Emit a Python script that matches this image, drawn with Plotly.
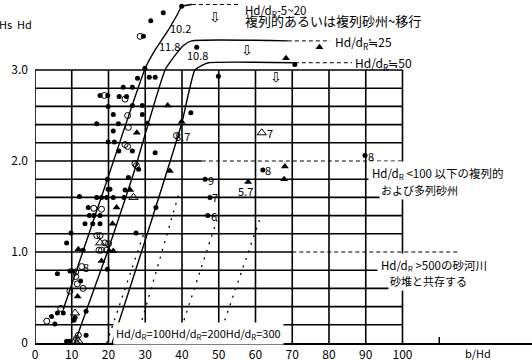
import plotly.graph_objects as go

# ---------------- data ----------------
x_ticks = [0, 10, 20, 30, 40, 50, 60, 70, 80, 90, 100]
y_ticks = [0, 1, 2, 3]
y_tick_text = ["0", "1.0", "2.0", "3.0"]
grid_y = [0.2, 0.4, 0.6, 0.8, 1.0, 1.2, 1.4, 1.6, 1.8, 2.0, 2.2, 2.4, 2.6, 2.8, 3.0]

# filled circles
filled_x = [39.9, 34.9, 31.5, 29.5, 44.0, 29.9, 27.9, 31.1, 32.7, 49.9, 70.7, 24.0, 26.5, 17.7, 19.8,
            22.9, 24.9, 19.9, 26.5, 29.2, 42.4, 21.3, 29.2, 16.8, 22.7, 21.3, 19.9, 21.6, 22.8, 26.5,
            32.7, 28.2, 19.7, 25.4, 19.9, 20.4, 24.5, 12.1, 16.8, 18.1, 19.5, 21.3, 24.2, 14.5, 32.9,
            14.8, 16.0, 17.7, 13.6, 15.7, 17.7, 9.8, 27.5, 8.6, 13.1, 19.7, 6.1, 9.5, 10.3, 12.4,
            6.1, 7.7, 4.5, 5.4, 10.6, 10.9, 13.9, 8.6, 9.3, 13.9, 46.3, 62.0, 47.6, 47.0, 89.8]
filled_y = [3.70, 3.63, 3.54, 3.37, 3.25, 3.02, 2.91, 2.92, 2.92, 2.93, 3.06, 2.81, 2.81, 2.72, 2.72,
            2.71, 2.71, 2.60, 2.61, 2.61, 2.53, 2.51, 2.51, 2.41, 2.41, 2.33, 2.21, 2.21, 2.11, 2.11,
            2.09, 1.91, 1.80, 1.82, 1.69, 1.69, 1.68, 1.61, 1.60, 1.60, 1.60, 1.60, 1.60, 1.49, 1.49,
            1.40, 1.40, 1.40, 1.31, 1.31, 1.31, 1.21, 1.21, 1.10, 1.02, 0.81, 0.76, 0.79, 0.79, 0.68,
            0.33, 0.33, 0.29, 0.21, 0.25, 0.28, 0.35, 0.02, 0.02, 0.085, 1.80, 1.90, 1.60, 1.40, 2.06]

# open circles
open_x = [28.6, 18.9, 24.5, 25.2, 25.4, 24.5, 25.2, 27.2, 27.6, 38.5, 16.0, 18.1, 16.8, 17.7, 19.0,
          20.0, 17.4, 18.1, 19.5, 12.7, 11.1, 11.1, 11.5, 13.1, 9.5, 7.0, 3.2, 11.8, 11.3]
open_y = [3.37, 2.72, 2.68, 2.50, 2.37, 2.18, 2.16, 1.97, 1.95, 2.28, 1.48, 1.47, 1.18, 1.18, 1.10,
          1.09, 1.02, 1.02, 1.02, 0.84, 0.78, 0.73, 0.65, 0.60, 0.57, 0.38, 0.24, 0.085, 0.05]

# filled triangles
tri_x = [77.4, 68.3, 36.1, 27.7, 30.5, 39.9, 36.7, 25.9, 22.2, 21.1, 11.8, 20.2, 21.3, 18.1, 11.6, 58.0, 68.0, 67.8]
tri_y = [3.25, 3.13, 2.61, 2.31, 2.41, 2.43, 1.89, 1.68, 1.49, 1.31, 1.03, 1.01, 1.01, 0.90, 0.51, 1.77, 1.94, 1.80]

# open triangles
otri_x = [26.8, 17.7, 10.9, 10.9, 11.8, 61.7]
otri_y = [1.60, 1.10, 0.33, 0.02, 0.02, 2.31]

# envelope curves (solid) and their dashed extensions
env1_x = [7.7, 19.7, 30.0, 32.7, 36.3, 38.6, 40.0, 42.7]
env1_y = [0.37, 1.80, 3.02, 3.22, 3.44, 3.60, 3.70, 3.72]
env1_dash_x = [42.7, 56.0]
env1_dash_y = [3.72, 3.72]

env2_x = [10.8, 19.7, 26.8, 35.4, 38.1, 40.4, 42.6, 68.8]
env2_y = [0.0, 1.00, 1.86, 3.00, 3.16, 3.27, 3.32, 3.32]
env2_dash_x = [68.8, 80.3]
env2_dash_y = [3.32, 3.32]

env3_x = [21.0, 30.4, 39.9, 43.5, 45.4, 47.2, 70.7]
env3_y = [0.0, 1.18, 2.41, 3.00, 3.05, 3.08, 3.08]
env3_dash_x = [70.7, 86.3]
env3_dash_y = [3.08, 3.08]

# dotted Hd/dR = 100 / 200 / 300 lines
dot_x = [[19.5, 30.0], [27.3, 39.0], [38.5, 49.5], [49.5, 61.5]]
dot_y = [[0.0, 1.25], [0.0, 1.62], [0.0, 1.35], [0.0, 1.40]]

# region boundary dashed lines
zone_x = [[45.4, 100.0], [70.0, 115.0]]
zone_y = [[2.0, 2.0], [1.0, 1.0]]

# numeric labels next to points
lab_text = ["10.2", "11.8", "10.8", "8.7", "7", "9", "7", "6", "8", "5.7", "8", "8"]
lab_x = [39.5, 36.5, 44.2, 40.0, 63.9, 47.8, 49.0, 48.7, 63.5, 57.3, 91.4, 13.9]
lab_y = [3.46, 3.26, 3.17, 2.27, 2.31, 1.79, 1.60, 1.40, 1.90, 1.67, 2.06, 0.84]

# hollow down arrows
arrow_x = [49.0, 57.7, 65.6]
arrow_y = [3.58, 3.22, 2.92]

# ---------------- figure ----------------
FONT = "Noto Sans CJK JP, sans-serif"
X_MAX = 497 / 3.675
Y_MAX = 343 / 91.0

fig = go.Figure()

# grid
gx, gy = [], []
for xv in x_ticks:
    gx += [xv, xv, None]
    gy += [0, 3.0, None]
zone_starts = {round(zone_y[i][0], 1): zone_x[i][0] for i in range(len(zone_y))}
for yv in grid_y:
    end = min(zone_starts.get(round(yv, 1), 100), 100)
    gx += [0, end, None]
    gy += [yv, yv, None]
fig.add_trace(go.Scatter(x=gx, y=gy, mode="lines", line=dict(color="black", width=1.6),
                         hoverinfo="skip"))

# tick on extended axis
fig.add_trace(go.Scatter(x=[110, 110], y=[0, 0.066], mode="lines",
                         line=dict(color="black", width=1.5), hoverinfo="skip"))

# envelopes
for ex, ey in [(env1_x, env1_y), (env2_x, env2_y), (env3_x, env3_y)]:
    fig.add_trace(go.Scatter(x=ex, y=ey, mode="lines",
                             line=dict(color="black", width=1.4, shape="spline", smoothing=0.5),
                             hoverinfo="skip"))
for ex, ey in [(env1_dash_x, env1_dash_y), (env2_dash_x, env2_dash_y), (env3_dash_x, env3_dash_y)]:
    fig.add_trace(go.Scatter(x=ex, y=ey, mode="lines", line=dict(color="black", width=1, dash="4px,3px"),
                             hoverinfo="skip"))
for ex, ey in zip(zone_x, zone_y):
    fig.add_trace(go.Scatter(x=ex, y=ey, mode="lines", line=dict(color="black", width=1, dash="4px,3px"),
                             hoverinfo="skip"))
for ex, ey in zip(dot_x, dot_y):
    fig.add_trace(go.Scatter(x=ex, y=ey, mode="lines", line=dict(color="black", width=1.3, dash="2px,6px"),
                             hoverinfo="skip"))

# markers
fig.add_trace(go.Scatter(x=filled_x, y=filled_y, mode="markers", cliponaxis=False,
                         marker=dict(symbol="circle", size=5, color="black")))
fig.add_trace(go.Scatter(x=open_x, y=open_y, mode="markers", cliponaxis=False,
                         marker=dict(symbol="circle-open", size=6, color="black", line=dict(width=1))))
fig.add_trace(go.Scatter(x=tri_x, y=tri_y, mode="markers", cliponaxis=False,
                         marker=dict(symbol="triangle-up", size=7, color="black")))
fig.add_trace(go.Scatter(x=otri_x, y=otri_y, mode="markers", cliponaxis=False,
                         marker=dict(symbol="triangle-up-open", size=8, color="black", line=dict(width=1))))

BLACK = "black"
ann = []
for t, x, y in zip(lab_text, lab_x, lab_y):
    ann.append(dict(x=x, y=y, xref="x", yref="y", text=t, showarrow=False,
                    font=dict(size=11, family=FONT, color=BLACK)))
for x, y in zip(arrow_x, arrow_y):
    ann.append(dict(x=x, y=y, xref="x", yref="y", text="⇩", showarrow=False,
                    font=dict(size=14, family="DejaVu Sans", color=BLACK)))

# descriptive texts
ann.append(dict(x=56.6, y=1.0, xref="x", yref="paper", xanchor="left", yanchor="top", align="left",
                text="<span style='font-size:11.5px'>Hd/d<sub>R</sub>-5~20</span><br>"
                     "<span style='font-size:13px'>複列的あるいは複列砂州~移行</span>",
                showarrow=False, font=dict(size=8.5, family=FONT, color=BLACK)))
ann.append(dict(x=81.1, y=3.30, xref="x", yref="y", xanchor="left", text="Hd/d<sub>R</sub>≒25",
                showarrow=False, font=dict(size=12, family=FONT, color=BLACK)))
ann.append(dict(x=86.5, y=3.07, xref="x", yref="y", xanchor="left", text="Hd/d<sub>R</sub>≒50",
                showarrow=False, font=dict(size=12, family=FONT, color=BLACK)))
ann.append(dict(x=90.6, y=1.865, xref="x", yref="y", xanchor="left",
                text="Hd/d<sub>R</sub> &lt;100 以下の複列的", bgcolor="white", borderpad=3,
                showarrow=False, font=dict(size=11.5, family=FONT, color=BLACK)))
ann.append(dict(x=93.6, y=1.68, xref="x", yref="y", xanchor="left", text="および多列砂州",
                bgcolor="white", borderpad=1, showarrow=False, font=dict(size=11, family=FONT, color=BLACK)))
ann.append(dict(x=93.0, y=0.855, xref="x", yref="y", xanchor="left",
                text="Hd/d<sub>R</sub> &gt;500の砂河川", bgcolor="white", borderpad=3,
                showarrow=False, font=dict(size=11.5, family=FONT, color=BLACK)))
ann.append(dict(x=96.0, y=0.68, xref="x", yref="y", xanchor="left", text="砂堆と共存する",
                bgcolor="white", borderpad=1, showarrow=False, font=dict(size=11, family=FONT, color=BLACK)))
ann.append(dict(x=21.3, y=0.10, xref="x", yref="y", xanchor="left",
                text="Hd/d<sub>R</sub>=100Hd/d<sub>R</sub>=200Hd/d<sub>R</sub>=300",
                bgcolor="white", borderpad=2, showarrow=False, font=dict(size=11, family=FONT, color=BLACK)))

# axis titles (paper coordinates, outside the data range)
ann.append(dict(x=-20 / 497, y=(343 - 24) / 343, xref="paper", yref="paper",
                xanchor="center", yanchor="middle", text="Hs  Hd",
                showarrow=False, font=dict(size=11, family=FONT, color=BLACK)))
ann.append(dict(x=120.5, y=-10 / 343, xref="x", yref="paper", xanchor="center", yanchor="middle",
                text="b/Hd", showarrow=False, font=dict(size=11, family=FONT, color=BLACK)))

fig.update_layout(
    width=532, height=363,
    margin=dict(l=35, r=0, t=0, b=20),
    plot_bgcolor="white", paper_bgcolor="white",
    showlegend=False,
    font=dict(family=FONT, size=11, color="black"),
    annotations=ann,
    xaxis=dict(range=[0, X_MAX], tickvals=x_ticks, ticktext=[str(v) for v in x_ticks],
               showgrid=False, zeroline=False, showline=True, linecolor="black", linewidth=2,
               ticks="", tickfont=dict(size=12, family=FONT), fixedrange=True),
    yaxis=dict(range=[0, Y_MAX], tickvals=y_ticks, ticktext=y_tick_text,
               showgrid=False, zeroline=False, showline=False, ticks="", ticklabelstandoff=6,
               tickfont=dict(size=12, family=FONT), fixedrange=True),
)

fig.write_html(
    "out.html",
    config={"displayModeBar": False, "staticPlot": True},
    post_script="document.body.style.margin='0';document.body.style.padding='0';"
                "document.body.style.overflow='hidden';",
)
